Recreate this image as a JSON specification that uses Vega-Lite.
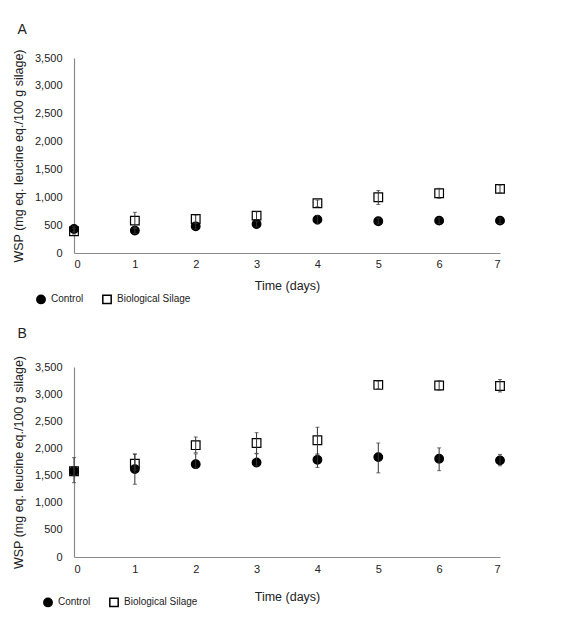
{
  "$schema": "https://vega.github.io/schema/vega-lite/v6.json",
  "background": "white",
  "padding": {"left": 12, "top": 22, "right": 40, "bottom": 2},
  "spacing": 20,
  "config": {
    "view": {"stroke": null},
    "font": "Liberation Sans",
    "axis": {
      "domainColor": "#8a8a8a",
      "domainWidth": 1.2,
      "ticks": false,
      "grid": false,
      "labelFontSize": 11,
      "labelColor": "#222222",
      "titleFontWeight": "normal",
      "titleColor": "#222222"
    },
    "legend": {
      "labelFontSize": 10,
      "labelColor": "#222222"
    },
    "title": {"fontSize": 14, "fontWeight": "normal", "color": "#222222"}
  },
  "datasets": {
    "wsp": [
      {"panel": "A", "series": "Biological Silage", "day": 0, "wsp": 390, "lo": 340, "hi": 440},
      {"panel": "A", "series": "Biological Silage", "day": 1, "wsp": 581, "lo": 440, "hi": 730},
      {"panel": "A", "series": "Biological Silage", "day": 2, "wsp": 611, "lo": 540, "hi": 680},
      {"panel": "A", "series": "Biological Silage", "day": 3, "wsp": 671, "lo": 600, "hi": 740},
      {"panel": "A", "series": "Biological Silage", "day": 4, "wsp": 893, "lo": 830, "hi": 950},
      {"panel": "A", "series": "Biological Silage", "day": 5, "wsp": 1001, "lo": 870, "hi": 1120},
      {"panel": "A", "series": "Biological Silage", "day": 6, "wsp": 1073, "lo": 980, "hi": 1160},
      {"panel": "A", "series": "Biological Silage", "day": 7, "wsp": 1151, "lo": 1080, "hi": 1220},
      {"panel": "A", "series": "Control", "day": 0, "wsp": 431, "lo": 380, "hi": 480},
      {"panel": "A", "series": "Control", "day": 1, "wsp": 402, "lo": 350, "hi": 450},
      {"panel": "A", "series": "Control", "day": 2, "wsp": 479, "lo": 430, "hi": 530},
      {"panel": "A", "series": "Control", "day": 3, "wsp": 521, "lo": 470, "hi": 570},
      {"panel": "A", "series": "Control", "day": 4, "wsp": 599, "lo": 520, "hi": 670},
      {"panel": "A", "series": "Control", "day": 5, "wsp": 569, "lo": 520, "hi": 620},
      {"panel": "A", "series": "Control", "day": 6, "wsp": 581, "lo": 530, "hi": 630},
      {"panel": "A", "series": "Control", "day": 7, "wsp": 581, "lo": 530, "hi": 630},
      {"panel": "B", "series": "Biological Silage", "day": 0, "wsp": 1580, "lo": 1500, "hi": 1660},
      {"panel": "B", "series": "Biological Silage", "day": 1, "wsp": 1720, "lo": 1600, "hi": 1900},
      {"panel": "B", "series": "Biological Silage", "day": 2, "wsp": 2060, "lo": 1920, "hi": 2210},
      {"panel": "B", "series": "Biological Silage", "day": 3, "wsp": 2100, "lo": 1910, "hi": 2290},
      {"panel": "B", "series": "Biological Silage", "day": 4, "wsp": 2150, "lo": 1880, "hi": 2390},
      {"panel": "B", "series": "Biological Silage", "day": 5, "wsp": 3170, "lo": 3100, "hi": 3240},
      {"panel": "B", "series": "Biological Silage", "day": 6, "wsp": 3160, "lo": 3070, "hi": 3250},
      {"panel": "B", "series": "Biological Silage", "day": 7, "wsp": 3150, "lo": 3040, "hi": 3270},
      {"panel": "B", "series": "Control", "day": 0, "wsp": 1580, "lo": 1370, "hi": 1830},
      {"panel": "B", "series": "Control", "day": 1, "wsp": 1620, "lo": 1340, "hi": 1890},
      {"panel": "B", "series": "Control", "day": 2, "wsp": 1710, "lo": 1640, "hi": 1900},
      {"panel": "B", "series": "Control", "day": 3, "wsp": 1740, "lo": 1680, "hi": 1900},
      {"panel": "B", "series": "Control", "day": 4, "wsp": 1790, "lo": 1650, "hi": 1900},
      {"panel": "B", "series": "Control", "day": 5, "wsp": 1840, "lo": 1550, "hi": 2100},
      {"panel": "B", "series": "Control", "day": 6, "wsp": 1810, "lo": 1590, "hi": 2010},
      {"panel": "B", "series": "Control", "day": 7, "wsp": 1780, "lo": 1680, "hi": 1890}
    ]
  },
  "resolve": {"legend": {"shape": "independent", "fill": "independent"}},
  "vconcat": [
    {
      "width": 426,
      "height": 195,
      "title": {"text": "A", "anchor": "start", "dx": 5, "offset": 12},
      "data": {"name": "wsp"},
      "transform": [{"filter": "datum.panel === 'A'"}],
      "layer": [
        {
          "mark": {"type": "point", "filled": true, "size": 75, "stroke": "black", "strokeWidth": 1.2, "opacity": 1},
          "encoding": {
            "x": {"field": "day", "type": "quantitative", "scale": {"domain": [0, 7], "nice": false},
              "axis": {"values": [0, 1, 2, 3, 4, 5, 6, 7], "format": "d", "title": "Time (days)", "titleFontSize": 12.5, "titlePadding": 10, "labelPadding": 5}},
            "y": {"field": "wsp", "type": "quantitative", "scale": {"domain": [0, 3500]},
              "axis": {"values": [0, 500, 1000, 1500, 2000, 2500, 3000, 3500], "format": ",d", "title": "WSP (mg eq. leucine eq./100 g silage)", "titleFontSize": 12.5, "titlePadding": 9, "labelPadding": 12}},
            "shape": {"field": "series", "type": "nominal", "sort": ["Control", "Biological Silage"],
              "scale": {"domain": ["Control", "Biological Silage"], "range": ["circle", "square"]},
              "legend": {"title": null, "orient": "none", "direction": "horizontal", "legendX": -38, "legendY": 236, "symbolSize": 70, "columnPadding": 15, "labelOffset": 5,
                "encode": {"symbols": {"update": {"stroke": {"value": "black"}, "strokeWidth": {"value": 1.2}}}}}},
            "fill": {"field": "series", "type": "nominal", "sort": ["Control", "Biological Silage"],
              "scale": {"domain": ["Control", "Biological Silage"], "range": ["black", "white"]},
              "legend": {"title": null, "orient": "none", "direction": "horizontal", "legendX": -38, "legendY": 236, "symbolSize": 70, "columnPadding": 15, "labelOffset": 5,
                "encode": {"symbols": {"update": {"stroke": {"value": "black"}, "strokeWidth": {"value": 1.2}}}}}}
          }
        },
        {
          "mark": {"type": "errorbar", "color": "#333333", "thickness": 1, "ticks": {"size": 4}},
          "encoding": {
            "x": {"field": "day", "type": "quantitative",
              "axis": {"values": [0, 1, 2, 3, 4, 5, 6, 7], "format": "d", "title": "Time (days)", "titleFontSize": 12.5, "titlePadding": 10, "labelPadding": 5}},
            "y": {"field": "lo", "type": "quantitative",
              "axis": {"values": [0, 500, 1000, 1500, 2000, 2500, 3000, 3500], "format": ",d", "title": "WSP (mg eq. leucine eq./100 g silage)", "titleFontSize": 12.5, "titlePadding": 9, "labelPadding": 12}},
            "y2": {"field": "hi"}
          }
        }
      ]
    },
    {
      "width": 426,
      "height": 190,
      "title": {"text": "B", "anchor": "start", "dx": 5, "offset": 14},
      "data": {"name": "wsp"},
      "transform": [{"filter": "datum.panel === 'B'"}],
      "layer": [
        {
          "mark": {"type": "point", "filled": true, "size": 75, "stroke": "black", "strokeWidth": 1.2, "opacity": 1},
          "encoding": {
            "x": {"field": "day", "type": "quantitative", "scale": {"domain": [0, 7], "nice": false},
              "axis": {"values": [0, 1, 2, 3, 4, 5, 6, 7], "format": "d", "title": "Time (days)", "titleFontSize": 12.5, "titlePadding": 16, "labelPadding": 6}},
            "y": {"field": "wsp", "type": "quantitative", "scale": {"domain": [0, 3500]},
              "axis": {"values": [0, 500, 1000, 1500, 2000, 2500, 3000, 3500], "format": ",d", "title": "WSP (mg eq. leucine eq./100 g silage)", "titleFontSize": 12.5, "titlePadding": 9, "labelPadding": 12}},
            "shape": {"field": "series", "type": "nominal", "sort": ["Control", "Biological Silage"],
              "scale": {"domain": ["Control", "Biological Silage"], "range": ["circle", "square"]},
              "legend": {"title": null, "orient": "none", "direction": "horizontal", "legendX": -31, "legendY": 230, "symbolSize": 70, "columnPadding": 15, "labelOffset": 5,
                "encode": {"symbols": {"update": {"stroke": {"value": "black"}, "strokeWidth": {"value": 1.2}}}}}},
            "fill": {"field": "series", "type": "nominal", "sort": ["Control", "Biological Silage"],
              "scale": {"domain": ["Control", "Biological Silage"], "range": ["black", "white"]},
              "legend": {"title": null, "orient": "none", "direction": "horizontal", "legendX": -31, "legendY": 230, "symbolSize": 70, "columnPadding": 15, "labelOffset": 5,
                "encode": {"symbols": {"update": {"stroke": {"value": "black"}, "strokeWidth": {"value": 1.2}}}}}}
          }
        },
        {
          "mark": {"type": "errorbar", "color": "#333333", "thickness": 1, "ticks": {"size": 4}},
          "encoding": {
            "x": {"field": "day", "type": "quantitative",
              "axis": {"values": [0, 1, 2, 3, 4, 5, 6, 7], "format": "d", "title": "Time (days)", "titleFontSize": 12.5, "titlePadding": 16, "labelPadding": 6}},
            "y": {"field": "lo", "type": "quantitative",
              "axis": {"values": [0, 500, 1000, 1500, 2000, 2500, 3000, 3500], "format": ",d", "title": "WSP (mg eq. leucine eq./100 g silage)", "titleFontSize": 12.5, "titlePadding": 9, "labelPadding": 12}},
            "y2": {"field": "hi"}
          }
        }
      ]
    }
  ]
}
